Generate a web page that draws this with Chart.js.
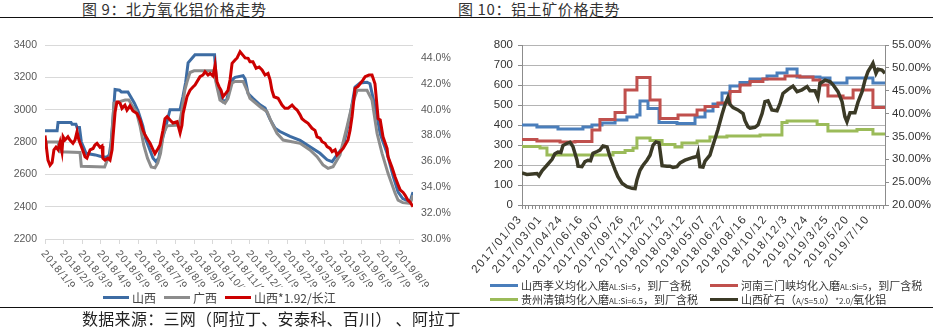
<!DOCTYPE html>
<html>
<head>
<meta charset="utf-8">
<script src="https://cdn.jsdelivr.net/npm/chart.js@4.4.0/dist/chart.umd.min.js"></script>
<style>
body { margin: 0; width: 933px; height: 328px; background: #fff; position: relative; overflow: hidden; font-family: 'Noto Sans CJK SC', sans-serif; }
.title { position: absolute; top: 0; font-size: 15px; line-height: 18px; color: #333; white-space: nowrap; letter-spacing: 0.6px; }
.rule { position: absolute; left: 0; width: 933px; height: 1px; background: #111; }
.source { position: absolute; left: 82px; top: 308px; font-size: 16px; line-height: 20px; color: #222; white-space: nowrap; letter-spacing: 0.3px; }
.box { position: absolute; }
.legend { position: absolute; font-size: 12px; color: #444; white-space: nowrap; }
.legend .item { display: inline-flex; align-items: center; height: 14px; }
.legend i { display: inline-block; width: 26px; height: 3px; margin-right: 3px; }
.legend small { font-size: 8px; }
#legend9 .item { margin-right: 8px; }
#legend10 { display: grid; grid-template-columns: 220px 220px; font-size: 11px; color: #333; }
#legend10 i { width: 28px; }
</style>
</head>
<body>
<div class="title" style="left:82px">图 9：北方氧化铝价格走势</div>
<div class="title" style="left:458px">图 10：铝土矿价格走势</div>
<div class="rule" style="top:17px"></div>

<div class="box" style="left:0;top:25px"><canvas id="alumina" width="460" height="262"></canvas></div>
<div class="box" style="left:465px;top:25px"><canvas id="bauxite" width="468" height="255"></canvas></div>

<div class="legend" id="legend9" style="left:103px;top:285px"></div>
<div class="legend" id="legend10" style="left:490px;top:278px"></div>

<div class="rule" style="top:307px"></div>
<div class="source">数据来源：三网（阿拉丁、安泰科、百川） 、阿拉丁</div>

<script>
Chart.defaults.font.family = "'Liberation Sans', 'Noto Sans CJK SC', sans-serif";

// ---------- 图9 北方氧化铝 ----------
const monthLabels = ['2018/1/9', '2018/2/9', '2018/3/9', '2018/4/9', '2018/5/9', '2018/6/9', '2018/7/9',
  '2018/8/9', '2018/9/9', '2018/10/9', '2018/11/9', '2018/12/9', '2019/1/9', '2019/2/9', '2019/3/9',
  '2019/4/9', '2019/5/9', '2019/6/9', '2019/7/9', '2019/8/9'];

// x = months since 2018/1/9
const sxX = [0, 0.65, 0.70, 1.40, 1.45, 1.66, 1.72, 1.85, 1.95, 2.10, 2.20, 2.70, 3.00, 3.30, 3.45, 3.55,
  3.65, 3.76, 4.00, 4.10, 4.45, 4.60, 4.80, 5.00, 5.25, 5.40, 5.60, 5.80, 5.95, 6.10, 6.30, 6.45, 6.60,
  6.71, 7.25, 7.40, 7.55, 7.68, 7.90, 8.05, 9.10, 9.20, 9.39, 9.55, 9.75, 9.93, 10.09, 10.20, 10.63,
  10.74, 10.90, 11.16, 11.54, 11.81, 12.08, 12.35, 12.61, 13.15, 13.69, 14.22, 14.76, 15.14, 15.41,
  15.67, 16.00, 16.37, 16.64, 16.91, 17.28, 17.44, 17.61, 17.82, 17.99, 18.36, 18.68, 18.95, 19.20,
  19.48, 19.62, 19.75];
const sxPrice = [2870, 2870, 2920, 2920, 2910, 2910, 2890, 2890, 2800, 2760, 2730, 2720, 2710, 2705, 2720,
  2800, 2950, 3125, 3120, 3110, 3110, 3080, 3040, 2990, 2900, 2820, 2760, 2700, 2680, 2700, 2820, 2880,
  2950, 3000, 3000, 3080, 3170, 3290, 3320, 3340, 3340, 3170, 3100, 3050, 3060, 3140, 3190, 3200, 3210,
  3190, 3100, 3070, 3030, 3010, 2940, 2885, 2865, 2835, 2810, 2770, 2730, 2690, 2678, 2720, 2770, 2960,
  3140, 3165, 3170, 3160, 3070, 2960, 2850, 2730, 2590, 2490, 2450, 2435, 2440, 2490];

const gxX = [0, 0.10, 0.70, 0.80, 1.88, 1.95, 3.20, 3.35, 3.49, 3.60, 3.70, 4.00, 4.30, 4.50, 4.70, 4.90,
  5.10, 5.30, 5.50, 5.70, 5.90, 6.05, 6.20, 6.35, 6.55, 7.20, 7.35, 7.50, 7.62, 7.78, 8.00, 9.05, 9.23,
  9.39, 9.66, 9.82, 10.04, 10.20, 10.63, 10.84, 11.00, 11.54, 11.92, 12.18, 12.45, 12.78, 13.69, 14.22,
  14.60, 14.92, 15.19, 15.46, 15.83, 16.21, 16.48, 16.75, 17.28, 17.55, 17.82, 18.09, 18.41, 18.79,
  18.95, 19.20, 19.60, 19.75];
const gxPrice = [2760, 2800, 2800, 2740, 2735, 2650, 2645, 2690, 2710, 2850, 3040, 3050, 3060, 3060, 3020,
  2990, 2900, 2780, 2700, 2645, 2640, 2670, 2730, 2850, 2900, 2905, 3000, 3120, 3170, 3230, 3240, 3240,
  3140, 3060, 3040, 3070, 3165, 3175, 3175, 3120, 3070, 3018, 2987, 2916, 2854, 2812, 2792, 2751, 2709,
  2658, 2637, 2647, 2720, 2895, 3029, 3120, 3120, 3060, 2854, 2730, 2606, 2483, 2440, 2425, 2420, 2470];

const ratioX = [0, 0.16, 0.27, 0.38, 0.48, 0.59, 0.70, 0.81, 0.91, 0.97, 1.07, 1.23, 1.34, 1.50, 1.61,
  1.72, 1.82, 1.99, 2.15, 2.25, 2.42, 2.58, 2.68, 2.79, 2.95, 3.06, 3.11, 3.22, 3.38, 3.49, 3.60, 3.65,
  3.76, 3.86, 3.92, 4.03, 4.13, 4.29, 4.40, 4.56, 4.72, 4.94, 5.10, 5.26, 5.37, 5.53, 5.64, 5.80, 5.90,
  6.07, 6.17, 6.33, 6.44, 6.55, 6.71, 6.87, 7.09, 7.25, 7.35, 7.41, 7.62, 7.78, 7.94, 8.05, 8.32, 8.48,
  8.59, 8.75, 8.86, 9.02, 9.13, 9.23, 9.34, 9.45, 9.55, 9.72, 9.82, 9.93, 10.04, 10.20, 10.31, 10.47,
  10.63, 10.74, 10.90, 11.00, 11.16, 11.33, 11.49, 11.65, 11.81, 11.97, 12.08, 12.18, 12.29, 12.51,
  12.72, 12.88, 13.04, 13.26, 13.42, 13.53, 13.69, 13.79, 13.96, 14.12, 14.33, 14.49, 14.60, 14.76,
  14.87, 15.03, 15.14, 15.30, 15.41, 15.57, 15.67, 15.83, 16.00, 16.16, 16.26, 16.37, 16.48, 16.64,
  16.80, 16.91, 17.07, 17.18, 17.39, 17.55, 17.71, 17.88, 17.99, 18.14, 18.36, 18.41, 18.63, 18.79,
  18.95, 19.06, 19.22, 19.32, 19.48, 19.59, 19.75];
const ratioPct = [38.0, 36.1, 35.7, 35.9, 36.9, 37.1, 36.9, 37.5, 36.75, 37.9, 37.65, 37.9, 37.65, 37.4,
  37.65, 38.3, 37.65, 37.0, 36.36, 36.25, 36.9, 37.0, 37.27, 37.4, 37.1, 37.2, 36.24, 36.1, 36.25, 36.1,
  36.9, 37.9, 39.8, 40.6, 40.6, 40.5, 40.1, 40.35, 39.97, 40.3, 39.9, 39.7, 39.2, 38.4, 38.04, 37.65,
  37.4, 36.9, 36.6, 37.0, 37.27, 38.4, 39.3, 39.46, 39.2, 38.97, 39.07, 38.2, 38.8, 39.7, 41.0, 41.5,
  41.75, 41.9, 42.55, 42.68, 42.94, 42.68, 42.8, 42.6, 43.45, 42.16, 41.78, 41.5, 41.0, 41.3, 41.5,
  42.3, 43.58, 43.84, 44.0, 44.48, 44.2, 44.0, 43.97, 43.7, 43.7, 43.2, 43.3, 43.07, 42.68, 42.8, 42.3,
  41.5, 41.0, 40.88, 40.36, 40.1, 40.1, 40.36, 40.1, 39.97, 39.6, 39.3, 39.1, 38.95, 38.56, 38.4, 37.9,
  37.8, 37.52, 37.4, 37.14, 37.0, 36.75, 36.9, 36.5, 36.73, 37.0, 37.4, 37.65, 38.4, 39.46, 41.65, 41.8,
  42.0, 42.3, 42.55, 42.68, 42.68, 42.0, 39.3, 39.2, 37.9, 37.0, 36.36, 35.5, 34.8, 34.2, 33.8, 33.6,
  33.4, 33.0, 32.86, 32.5];

// ---------- 图10 铝土矿 ----------
const bauxiteLabels = ['2017/01/03', '2017/03/01', '2017/04/24', '2017/06/16', '2017/08/07', '2017/09/26',
  '2017/11/22', '2018/01/12', '2018/03/12', '2018/05/07', '2018/06/27', '2018/08/16', '2018/10/12',
  '2018/12/3', '2019/1/24', '2019/3/25', '2019/5/20', '2019/7/10'];

// x = position in label steps, each price holds until the next point
const xiaoyiX = [0, 0.73, 1.76, 2.98, 3.42, 3.91, 4.55, 5.13, 5.62, 5.77, 6.16, 6.70, 7.58, 8.46, 8.95,
  9.34, 9.78, 10.17, 10.66, 11.15, 11.98, 12.47, 12.96, 13.45, 14.57, 15.06, 15.89, 17.16, 17.75];
const xiaoyiPrice = [400, 390, 380, 390, 400, 410, 425, 440, 450, 520, 483, 413, 408, 440, 470, 505, 560,
  595, 612, 630, 645, 660, 680, 640, 635, 610, 635, 610, 610];

const sanmenxiaX = [0, 0.73, 1.86, 2.59, 3.42, 3.81, 4.55, 5.04, 5.62, 6.26, 6.75, 7.63, 8.56, 8.95, 9.58,
  10.17, 10.66, 11.15, 11.78, 12.86, 13.59, 14.23, 14.57, 14.96, 15.70, 16.19, 17.16, 17.75];
const sanmenxiaPrice = [328, 320, 315, 318, 375, 428, 462, 575, 637, 525, 433, 450, 475, 492, 510, 567,
  600, 617, 630, 645, 640, 625, 600, 545, 535, 575, 488, 488];

const qingzhenX = [0, 0.88, 1.22, 4.45, 5.04, 5.43, 5.62, 6.26, 6.85, 7.48, 7.82, 8.56, 9.19, 10.02,
  11.64, 12.71, 12.96, 14.43, 14.96, 16.38, 17.16, 17.75];
const qingzhenPrice = [293, 285, 250, 262, 272, 285, 335, 322, 302, 290, 310, 320, 340, 345, 350, 412,
  420, 402, 370, 378, 355, 355];

const oreX = [0, 0.24, 0.50, 0.73, 0.83, 0.98, 1.22, 1.47, 1.61, 1.76, 1.90, 2.00, 2.20, 2.35, 2.49, 2.69,
  2.74, 2.93, 3.08, 3.23, 3.35, 3.47, 3.67, 3.81, 3.96, 4.16, 4.30, 4.55, 4.69, 4.89, 5.13, 5.38, 5.53,
  5.62, 5.77, 5.92, 6.11, 6.26, 6.41, 6.55, 6.70, 6.85, 7.09, 7.24, 7.38, 7.58, 7.73, 7.97, 8.22, 8.36,
  8.56, 8.61, 8.70, 8.85, 8.95, 9.19, 9.29, 9.44, 9.58, 9.78, 9.93, 10.07, 10.17, 10.32, 10.56, 10.81,
  10.90, 11.05, 11.15, 11.39, 11.54, 11.74, 11.88, 12.03, 12.22, 12.47, 12.62, 12.76, 13.01, 13.25,
  13.45, 13.69, 13.94, 14.08, 14.33, 14.47, 14.57, 14.82, 15.06, 15.21, 15.45, 15.65, 15.79, 15.89,
  16.04, 16.28, 16.43, 16.63, 16.77, 16.92, 17.11, 17.16, 17.31, 17.41, 17.60, 17.75];
const oreRatio = [27.0, 26.7, 26.8, 26.9, 26.4, 27.5, 28.7, 30.0, 31.2, 31.6, 31.5, 33.0, 33.5, 33.7,
  32.8, 29.8, 28.5, 28.4, 29.5, 29.8, 29.7, 31.3, 31.7, 32.0, 32.9, 32.7, 30.6, 27.7, 26.2, 24.75, 24.0,
  23.65, 23.6, 25.5, 27.6, 28.7, 29.8, 30.9, 33.1, 33.8, 33.6, 28.6, 28.5, 28.5, 28.2, 28.4, 29.2, 29.8,
  30.2, 30.4, 30.6, 31.4, 28.4, 28.3, 29.6, 30.9, 32.4, 34.5, 36.5, 39.8, 42.0, 43.5, 42.0, 41.3, 40.8,
  40.0, 38.5, 37.1, 36.8, 37.0, 37.5, 40.0, 42.6, 42.8, 40.8, 40.6, 42.3, 44.4, 45.3, 46.0, 44.8, 45.2,
  45.9, 45.0, 45.0, 43.5, 46.6, 47.3, 47.0, 46.3, 44.8, 42.6, 39.3, 38.2, 40.2, 40.2, 42.5, 44.8, 47.3,
  49.2, 50.6, 51.0, 48.8, 49.7, 49.5, 48.8];

const pts = (xs, ys) => xs.map((x, i) => ({ x: x, y: ys[i] }));

// rotated category labels under the x axis
const slantedLabels = {
  id: 'slantedLabels',
  afterDraw(chart, args, opts) {
    const scale = chart.scales.x;
    const ctx = chart.ctx;
    ctx.save();
    ctx.font = opts.font;
    ctx.fillStyle = opts.color;
    ctx.letterSpacing = opts.spacing || '0px';
    ctx.textBaseline = 'middle';
    ctx.textAlign = opts.angle > 0 ? 'left' : 'right';
    opts.labels.forEach((text, i) => {
      ctx.save();
      ctx.translate(scale.getPixelForValue(i) + opts.dx, scale.top + opts.dy);
      ctx.rotate(opts.angle * Math.PI / 180);
      ctx.fillText(text, 0, 0);
      ctx.restore();
    });
    ctx.restore();
  }
};

const aluminaChart = new Chart(document.getElementById('alumina'), {
  type: 'line',
  data: {
    datasets: [
      { label: '山西', data: pts(sxX, sxPrice), borderColor: '#3d6ca3', yAxisID: 'y', order: 2 },
      { label: '广西', data: pts(gxX, gxPrice), borderColor: '#8c8c8c', yAxisID: 'y', order: 1 },
      { label: '山西*1.92/长江', data: pts(ratioX, ratioPct), borderColor: '#cc0000', yAxisID: 'y1', order: 0 }
    ]
  },
  options: {
    responsive: false,
    animation: false,
    layout: { padding: { top: 20 } },
    elements: { point: { radius: 0 }, line: { borderWidth: 3, tension: 0 } },
    plugins: {
      legend: { display: false },
      tooltip: { enabled: false },
      slantedLabels: { labels: monthLabels, angle: 50, dx: -2, dy: 13, font: '10.5px "Liberation Sans"', spacing: '0.8px', color: '#595959' }
    },
    scales: {
      x: {
        type: 'linear', min: 0, max: 19.75,
        afterBuildTicks: s => { s.ticks = monthLabels.map((_, i) => ({ value: i })); },
        ticks: { display: false },
        grid: { drawOnChartArea: false, tickLength: 5, color: '#d9d9d9' },
        border: { color: '#d9d9d9' },
        afterFit: s => { s.height = 48; }
      },
      y: {
        min: 2200, max: 3400,
        ticks: { stepSize: 200, padding: 8, color: '#595959', font: { size: 10.5 }, callback: v => String(v) },
        grid: { color: '#d9d9d9', drawTicks: false },
        border: { display: false },
        afterFit: s => { s.width = 45; }
      },
      y1: {
        position: 'right', min: 30, max: 45,
        ticks: { stepSize: 2, padding: 8, color: '#595959', font: { size: 10.5 },
          callback: v => (v % 2 === 0 ? v.toFixed(1) + '%' : '') },
        grid: { drawOnChartArea: false, drawTicks: false },
        border: { display: false },
        afterFit: s => { s.width = 47; }
      }
    }
  },
  plugins: [slantedLabels]
});

const bauxiteChart = new Chart(document.getElementById('bauxite'), {
  type: 'line',
  data: {
    datasets: [
      { label: '山西孝义均化入磨AL:Si=5，到厂含税', data: pts(xiaoyiX, xiaoyiPrice), borderColor: '#4a7ebb', stepped: 'before', yAxisID: 'y', order: 3 },
      { label: '河南三门峡均化入磨AL:Si=5，到厂含税', data: pts(sanmenxiaX, sanmenxiaPrice), borderColor: '#c0504d', stepped: 'before', yAxisID: 'y', order: 2 },
      { label: '贵州清镇均化入磨AL:Si=6.5，到厂含税', data: pts(qingzhenX, qingzhenPrice), borderColor: '#9bbb59', stepped: 'before', yAxisID: 'y', order: 1 },
      { label: '山西矿石（A/S=5.0）*2.0/氧化铝', data: pts(oreX, oreRatio), borderColor: '#3b3a26', borderWidth: 3.5, yAxisID: 'y1', order: 0 }
    ]
  },
  options: {
    responsive: false,
    animation: false,
    layout: { padding: { top: 20 } },
    elements: { point: { radius: 0 }, line: { borderWidth: 3, tension: 0 } },
    plugins: {
      legend: { display: false },
      tooltip: { enabled: false },
      slantedLabels: { labels: bauxiteLabels, angle: -50, dx: -2, dy: 12, font: '11.5px "Liberation Sans"', spacing: '1.4px', color: '#333' }
    },
    scales: {
      x: {
        type: 'linear', min: 0, max: 17.75,
        afterBuildTicks: s => {
          const t = [];
          for (let i = 0; i <= 106; i++) t.push({ value: i / 6 });
          s.ticks = t;
        },
        ticks: { display: false },
        grid: { drawOnChartArea: false, tickLength: 4, color: '#8c8c8c' },
        border: { color: '#8c8c8c' },
        afterFit: s => { s.height = 75; }
      },
      y: {
        min: 0, max: 800,
        ticks: { stepSize: 100, padding: 5, color: '#333', font: { size: 11.5 } },
        grid: { color: '#b4b4b4', tickLength: 4, tickColor: '#8c8c8c' },
        border: { color: '#8c8c8c' },
        afterFit: s => { s.width = 57; }
      },
      y1: {
        position: 'right', min: 20, max: 55,
        ticks: { stepSize: 5, padding: 3, color: '#333', font: { size: 11.5 }, callback: v => v.toFixed(2) + '%' },
        grid: { drawOnChartArea: false, tickLength: 4, color: '#8c8c8c' },
        border: { color: '#8c8c8c' },
        afterFit: s => { s.width = 48; }
      }
    }
  },
  plugins: [slantedLabels]
});

// legends built from the datasets; ratio notes are set in a smaller size
function buildLegend(chart, boxId) {
  const box = document.getElementById(boxId);
  chart.data.datasets.forEach(ds => {
    const item = document.createElement('span');
    item.className = 'item';
    const line = document.createElement('i');
    line.style.background = ds.borderColor;
    const text = document.createElement('span');
    text.innerHTML = ds.label.replace(/(AL:Si=[\d.]+|A\/S=5\.0|\*2\.0\/)/g, '<small>$1</small>');
    item.appendChild(line);
    item.appendChild(text);
    box.appendChild(item);
  });
}
buildLegend(aluminaChart, 'legend9');
buildLegend(bauxiteChart, 'legend10');
</script>
</body>
</html>
